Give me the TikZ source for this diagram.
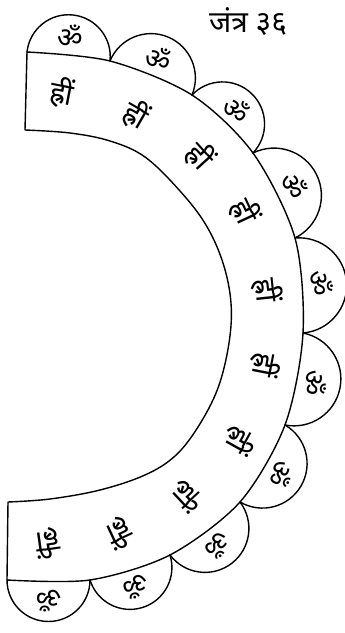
\documentclass[tikz,border=0pt]{standalone}
\usepackage{fontspec}
\newfontfamily\devfont[Script=Devanagari]{Noto Sans}
\usetikzlibrary{calc}
\tikzstyle{band} = [line width=1.4pt]
\tikzstyle{petal} = [line width=1.4pt]
\tikzstyle{mantra} = [font=\devfont\fontsize{30}{32}\selectfont, inner sep=0pt]
\tikzstyle{seed} = [font=\devfont\fontsize{28}{30}\selectfont, inner sep=0pt]

\begin{document}
\begin{tikzpicture}[x=1pt, y=1pt, line join=round, line cap=round]
    \useasboundingbox (0,0) rectangle (345,633);

    % Title
    \node[font=\devfont\bfseries\fontsize{30}{32}\selectfont] (title) at (248,611) {जंत्र ३६};

    % Junctions of the petals on the outer rim
    \coordinate (j0) at (27,581);
    \coordinate (j1) at (110,572);
    \coordinate (j2) at (192,538);
    \coordinate (j3) at (253,480);
    \coordinate (j4) at (295,395);
    \coordinate (j5) at (303,300);
    \coordinate (j6) at (285,208);
    \coordinate (j7) at (240,131);
    \coordinate (j8) at (170,78);
    \coordinate (j9) at (90,53);
    \coordinate (j10) at (7,53);

    % Arched band
    \draw[band] (j0) -- plot[smooth, tension=0.6] coordinates {(25,503) (70,500) (110,492) (145,476) (180,442) (206,408) (223,370) (231,330) (229,290) (218,245) (198,206) (175,177) (145,158) (100,143) (50,134) (8,131)}
        -- plot[smooth] coordinates {(j10) (j9) (j8) (j7) (j6) (j5) (j4) (j3) (j2) (j1) (j0)} -- cycle;

    % Petals with their syllables
    \foreach \a/\b [count=\i] in {j0/j1, j1/j2, j2/j3, j3/j4, j4/j5, j5/j6, j6/j7, j7/j8, j8/j9, j9/j10} {
        \draw[petal] let \p1 = ($(\b)-(\a)$), \n1 = {atan2(\y1,\x1)}, \n2 = {veclen(\x1,\y1)/2} in
            (\a) arc[start angle=\n1+180, delta angle=-180, radius=\n2];
        \path let \p1 = ($(\b)-(\a)$), \n1 = {atan2(\y1,\x1)}, \p2 = ($(\a)!0.5!(\b)$) in
            node[seed, rotate=\n1] (p\i) at ($(\x2,\y2)!0.48!90:(\b)$) {ॐ};
    }

    % Syllables in the band
    \foreach \x/\y/\r [count=\i] in {62/540/-11, 136/518/-30, 200/477/-48, 245/422/-65, 267/343/-84,
        265/268/-101, 240/193/-119, 187/137/-137, 120/100/-155, 48/90/-172} {
        \node[mantra, rotate=\r] (b\i) at (\x,\y) {ह्रीं};
    }
\end{tikzpicture}
\end{document}
